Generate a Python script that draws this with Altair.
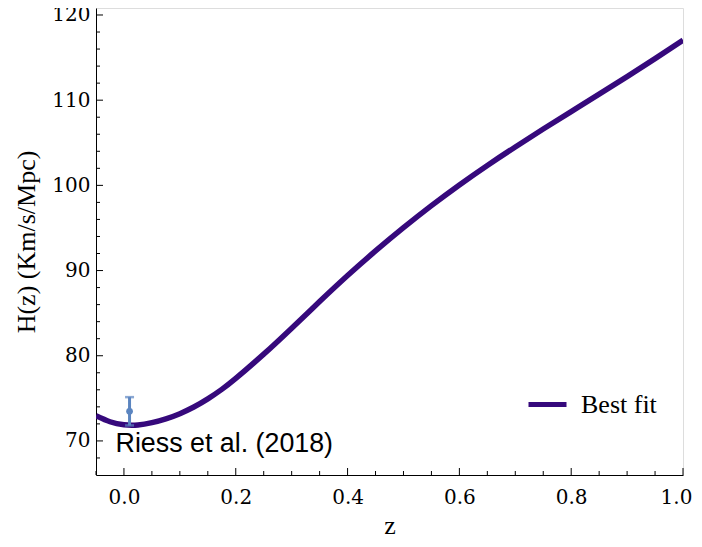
import altair as alt
import pandas as pd

# Best-fit curve H(z)
z_fit = [-0.05, -0.025, 0.0, 0.025, 0.05, 0.075, 0.10, 0.125, 0.15, 0.175, 0.20,
         0.25, 0.30, 0.35, 0.40, 0.45, 0.50, 0.55, 0.60, 0.65, 0.70, 0.75, 0.80,
         0.85, 0.90, 0.95, 1.00]
h_fit = [72.95, 72.25, 71.9, 71.88, 72.15, 72.59, 73.2, 73.98, 74.93, 76.05, 77.34,
         80.19, 83.24, 86.36, 89.41, 92.3, 95.03, 97.62, 100.05, 102.34, 104.51, 106.61, 108.66,
         110.7, 112.76, 114.88, 117.05]

# Riess et al. (2018) data point
z_obs = [0.01]
h_obs = [73.48]
h_err = [1.66]

# Annotation
note_text = ["Riess et al. (2018)"]
note_z = [-0.015]
note_h = [69.6]

# Tick positions
x_major = [0.0, 0.2, 0.4, 0.6, 0.8, 1.0]
x_minor = [-0.05, 0.05, 0.1, 0.15, 0.25, 0.3, 0.35, 0.45, 0.5, 0.55, 0.65, 0.7, 0.75, 0.85, 0.9, 0.95]
y_major = [70, 80, 90, 100, 110, 120]
y_minor = [68, 72, 74, 76, 78, 82, 84, 86, 88, 92, 94, 96, 98, 102, 104, 106, 108, 112, 114, 116, 118]

W, H = 587, 467
LINE = "#36097c"
BLUE = "#5b85c0"
SERIF = "DejaVu Serif"
TIMES = "Liberation Serif"

fit_df = pd.DataFrame({"z": z_fit, "H": h_fit, "series": "Best fit"})
obs_df = pd.DataFrame({"z": z_obs, "H": h_obs,
                       "lo": [h - e for h, e in zip(h_obs, h_err)],
                       "hi": [h + e for h, e in zip(h_obs, h_err)]})
note_df = pd.DataFrame({"z": note_z, "H": note_h, "t": note_text})

xscale = alt.Scale(domain=[-0.05, 1.0], nice=False, zero=False)
yscale = alt.Scale(domain=[66, 120.82], nice=False, zero=False)

xaxis = alt.Axis(values=x_major, format=".1f", ticks=False, grid=False,
                 labelFlush=False, labelPadding=12, labelFont=SERIF, labelFontSize=20,
                 labelOffset={"condition": {"test": "datum.value >= 0.99", "value": -7}, "value": 0},
                 labelColor="black", title="z", titleFont=TIMES, titleFontSize=26,
                 titleFontWeight="normal", titlePadding=5, titleColor="black",
                 domainColor="black")
yaxis = alt.Axis(values=y_major, format="d", ticks=False, grid=False,
                 labelFlush=False, labelPadding=6, labelFont=SERIF, labelFontSize=20,
                 labelColor="black", title="H(z) (Km/s/Mpc)", titleFont=TIMES,
                 titleFontSize=26, titleFontWeight="normal", titlePadding=12,
                 titleColor="black", domainColor="black")

curve = alt.Chart(fit_df).mark_line(strokeWidth=5.5, interpolate="natural", clip=True).encode(
    x=alt.X("z:Q", scale=xscale, axis=xaxis),
    y=alt.Y("H:Q", scale=yscale, axis=yaxis),
    color=alt.Color("series:N",
                    scale=alt.Scale(domain=["Best fit"], range=[LINE]),
                    legend=alt.Legend(title=None, orient="none", legendX=430, legendY=375,
                                      symbolType="stroke", symbolStrokeWidth=5,
                                      symbolSize=1444, labelFont=TIMES, labelFontSize=26,
                                      labelColor="black", labelOffset=12, padding=0)),
)

err = alt.Chart(obs_df).mark_rule(color=BLUE, strokeWidth=3).encode(
    x="z:Q", y="lo:Q", y2="hi:Q")
cap_lo = alt.Chart(obs_df).mark_tick(color=BLUE, thickness=2.5, size=9, orient="horizontal").encode(
    x="z:Q", y="lo:Q")
cap_hi = alt.Chart(obs_df).mark_tick(color=BLUE, thickness=2.5, size=9, orient="horizontal").encode(
    x="z:Q", y="hi:Q")
pt = alt.Chart(obs_df).mark_circle(color=BLUE, size=45, opacity=1).encode(x="z:Q", y="H:Q")

note = alt.Chart(note_df).mark_text(align="left", baseline="middle", font="Liberation Sans",
                                    fontSize=26.8, color="black").encode(
    x="z:Q", y="H:Q", text="t:N")

xmaj = alt.Chart(pd.DataFrame({"v": x_major})).mark_rule(color="black", strokeWidth=1).encode(
    x="v:Q", y=alt.value(H), y2=alt.value(H - 7))
xmin = alt.Chart(pd.DataFrame({"v": x_minor})).mark_rule(color="black", strokeWidth=1).encode(
    x="v:Q", y=alt.value(H), y2=alt.value(H - 4))
ymaj = alt.Chart(pd.DataFrame({"v": y_major})).mark_rule(color="black", strokeWidth=1).encode(
    y="v:Q", x=alt.value(0), x2=alt.value(7))
ymin = alt.Chart(pd.DataFrame({"v": y_minor})).mark_rule(color="black", strokeWidth=1).encode(
    y="v:Q", x=alt.value(0), x2=alt.value(4))

chart = alt.layer(xmaj, xmin, ymaj, ymin, curve, err, cap_lo, cap_hi, pt, note).properties(
    width=W, height=H,
    autosize=alt.AutoSizeParams(type="none"),
    padding={"left": 88, "top": 0, "right": 11, "bottom": 60},
).configure_view(stroke="#808080", strokeWidth=1).configure(background="white")

chart.save("out.html", embed_options={"renderer": "svg", "actions": False})
